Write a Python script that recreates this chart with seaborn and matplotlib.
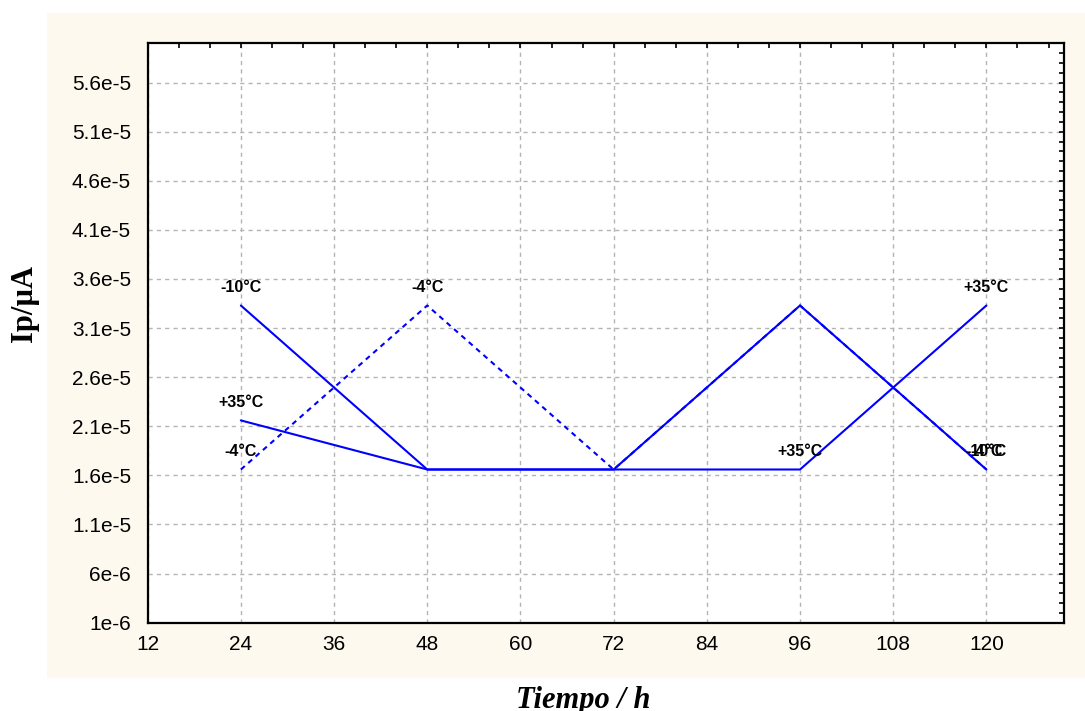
#Importing the Dependencies
import pandas as pd
import matplotlib
matplotlib.use("Agg")
import matplotlib.pyplot as plt
from matplotlib.patches import Rectangle
from matplotlib.ticker import MultipleLocator, FuncFormatter
import seaborn as sns

#Data
hours = [24, 48, 72, 96, 120]
ip_m10 = [3.33e-5, 1.66e-5, 1.66e-5, 3.33e-5, 1.66e-5]
ip_m4 = [1.66e-5, 3.33e-5, 1.66e-5, 3.33e-5, 1.66e-5]
ip_p35 = [2.16e-5, 1.66e-5, 1.66e-5, 1.66e-5, 3.33e-5]
series_names = ["-10°C", "-4°C", "+35°C"]
# which points carry a text label
labelled_m10 = [0, 4]
labelled_m4 = [0, 1, 4]
labelled_p35 = [0, 3, 4]
x_ticks = [12, 24, 36, 48, 60, 72, 84, 96, 108, 120]
y_ticks = [1e-6, 6e-6, 1.1e-5, 1.6e-5, 2.1e-5, 2.6e-5, 3.1e-5, 3.6e-5, 4.1e-5, 4.6e-5, 5.1e-5, 5.6e-5]

#Long table for seaborn
df = pd.concat([
    pd.DataFrame({"Tiempo": hours, "Ip": ip_m10, "Serie": series_names[0]}),
    pd.DataFrame({"Tiempo": hours, "Ip": ip_m4, "Serie": series_names[1]}),
    pd.DataFrame({"Tiempo": hours, "Ip": ip_p35, "Serie": series_names[2]}),
], ignore_index=True)

sns.set_style("white")
plt.rcParams['font.family'] = ['Liberation Sans', 'DejaVu Sans']
plt.rcParams['text.color'] = 'black'
plt.rcParams['xtick.color'] = 'black'
plt.rcParams['ytick.color'] = 'black'

fig = plt.figure(figsize=(10.85, 7.11), dpi=100)
fig.patch.set_facecolor("white")
# cream panel behind the plot area
fig.patches.append(Rectangle((0.0433, 0.0464), 0.9567, 0.9353, transform=fig.transFigure,
                             facecolor="#fef9ee", edgecolor="none", zorder=-5))
ax = fig.add_axes([0.1361, 0.1242, 0.8446, 0.8149])
ax.set_zorder(2)
ax.set_facecolor("white")

sns.lineplot(data=df, x="Tiempo", y="Ip", hue="Serie", style="Serie",
             palette=["#0000ff"] * 3,
             dashes={"-10°C": "", "-4°C": (2.5, 2.2), "+35°C": ""},
             linewidth=1.5, legend=False, ax=ax, zorder=3)

#Point labels
for vals, idx, name in [(ip_m10, labelled_m10, series_names[0]),
                        (ip_m4, labelled_m4, series_names[1]),
                        (ip_p35, labelled_p35, series_names[2])]:
    for i in idx:
        ax.annotate(name, (hours[i], vals[i]), xytext=(0, 10), textcoords="offset points",
                    ha="center", va="baseline", fontsize=11.5, fontweight="bold", zorder=4)

#Axes styling
ax.set_xlim(12, 130)
ax.set_ylim(1e-6, 6e-5)
ax.set_xticks(x_ticks)
ax.set_yticks(y_ticks)
ax.xaxis.set_minor_locator(MultipleLocator(4))
ax.yaxis.set_minor_locator(MultipleLocator(1e-6))
ax.yaxis.set_major_formatter(FuncFormatter(lambda v, p: f"{v:.2g}".replace("e-0", "e-")))
ax.tick_params(which="both", direction="in", top=True, right=True, length=3.5, width=1.2,
               color="black")
ax.tick_params(axis="both", which="major", labelsize=15)
ax.tick_params(axis="y", which="major", pad=12)
ax.tick_params(axis="x", which="major", pad=9)
ax.grid(True, which="major", color="#b4b4b4", linestyle=(0, (3, 3)), linewidth=1)
for s in ax.spines.values():
    s.set_visible(True)
    s.set_color("black")
    s.set_linewidth(1.6)
ax.set_xlabel("")
ax.set_ylabel("")

fig.text(25 / 1085, 1 - 303 / 711, "Ip/µA", rotation=90, ha="center", va="center",
         fontsize=22, fontweight="bold", family=["Liberation Serif", "DejaVu Serif"])
fig.text(583 / 1085, 0.004, "Tiempo / h", ha="center", va="baseline", fontsize=22,
         fontweight="bold", fontstyle="italic", family=["Liberation Serif", "DejaVu Serif"])

fig.savefig("out.png", dpi=100)
